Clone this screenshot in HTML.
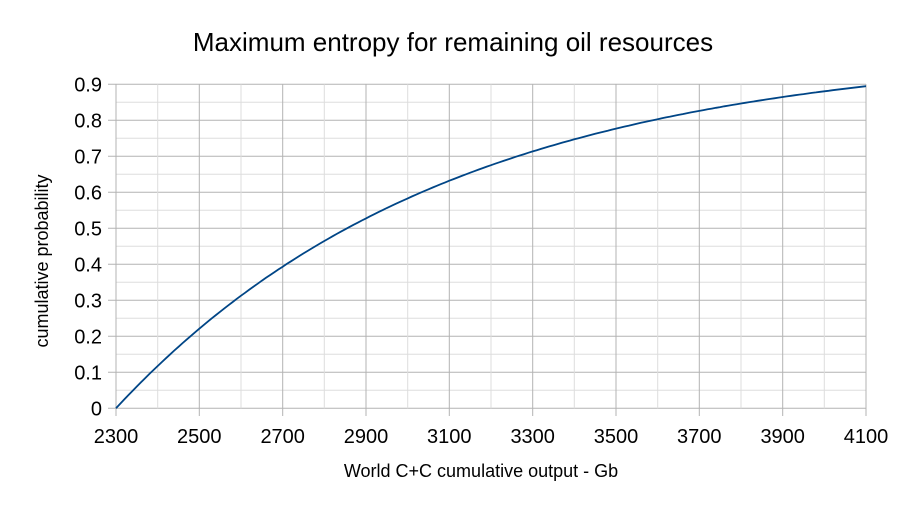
<!DOCTYPE html>
<html><head><meta charset="utf-8"><style>html,body{margin:0;padding:0;background:#fff}svg{display:block}</style></head>
<body>
<svg id="s" width="907" height="510" viewBox="0 0 907 510" xmlns="http://www.w3.org/2000/svg" font-family="Liberation Sans, sans-serif">
<rect width="907" height="510" fill="#fff"/>
<g id="grid"></g>
<text x="453" y="51" font-size="26" text-anchor="middle" fill="#000">Maximum entropy for remaining oil resources</text>
<g font-size="20" fill="#000" text-anchor="end" id="yl"></g>
<g font-size="20" fill="#000" text-anchor="middle" id="xl"></g>
<text x="481" y="477" font-size="18" text-anchor="middle">World C+C cumulative output - Gb</text>
<text transform="translate(48,261) rotate(-90)" font-size="18" text-anchor="middle">cumulative probability</text>
<path id="c" fill="none" stroke="#004586" stroke-width="1.8"/>
</svg>
<script>
var L=116,R=866,T=84.3,B=408.3;
function X(v){return L+(v-2300)/1800*(R-L)}
function Y(p){return B-p/0.9*(B-T)}
var g=document.getElementById('grid'),h='';
for(var i=0;i<=18;i++){var p=i*0.05,y=Y(p).toFixed(1);var maj=i%2==0;
h+='<line x1="'+(maj?108:L)+'" x2="'+R+'" y1="'+y+'" y2="'+y+'" stroke="'+(maj?'#b3b3b3':'#dddddd')+'" stroke-width="1"/>';}
for(var i=0;i<=18;i++){var v=2300+i*100,x=X(v).toFixed(1);var maj=i%2==0;
h+='<line x1="'+x+'" x2="'+x+'" y1="'+T+'" y2="'+(maj?416:B)+'" stroke="'+(maj?'#b3b3b3':'#dddddd')+'" stroke-width="1"/>';}
g.innerHTML=h;
var yl='';for(var i=0;i<=9;i++){yl+='<text x="102" y="'+(Y(i/10)+7).toFixed(1)+'">'+(i==0?'0':(i/10).toFixed(1))+'</text>';}
document.getElementById('yl').innerHTML=yl;
var xl='';for(var v=2300;v<=4100;v+=200){xl+='<text x="'+X(v).toFixed(1)+'" y="443">'+v+'</text>';}
document.getElementById('xl').innerHTML=xl;
var d='';for(var v=2300;v<=4100;v+=10){var p=1-Math.exp(-(v-2300)/800);d+=(v==2300?'M':'L')+X(v).toFixed(1)+','+Y(p).toFixed(1);}
document.getElementById('c').setAttribute('d',d);
</script>
</body></html>
